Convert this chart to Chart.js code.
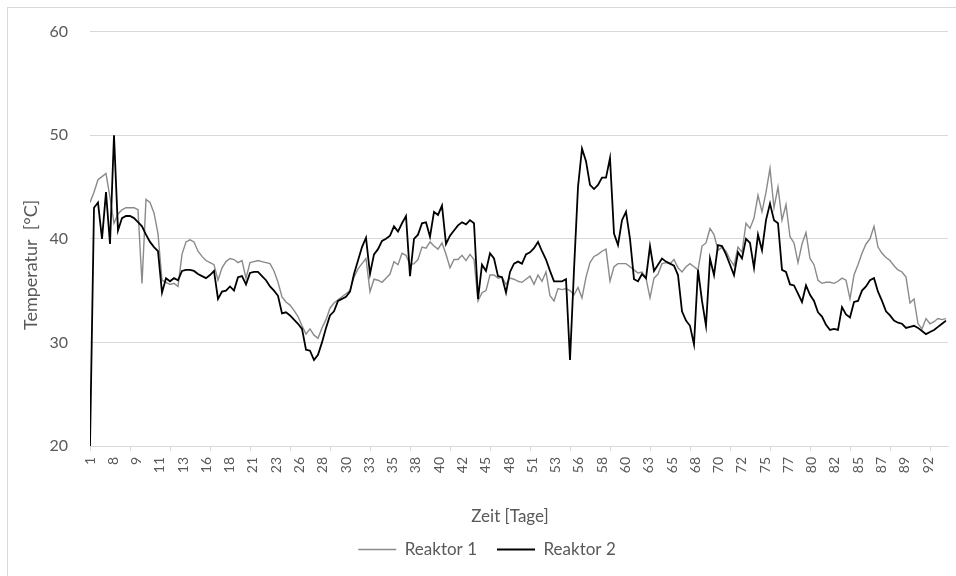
<!DOCTYPE html>
<html><head><meta charset="utf-8">
<script src="https://cdn.jsdelivr.net/npm/chart.js@4"></script>
<style>
html,body{margin:0;padding:0;background:#fff;overflow:hidden;width:956px;height:576px;}
#frame{position:absolute;left:7px;top:7px;width:1200px;height:1200px;border:1px solid #d9d9d9;box-sizing:border-box;}
canvas{position:absolute;left:0;top:0;}
</style></head><body>
<div id="frame"></div>
<canvas id="c" width="956" height="576"></canvas>
<script>
// x-axis category labels (day numbers shown by the original axis)
const tickLabels = ['1','8','9','11','13','16','18','21','23','26','28','30','33','35','38','40','42','45','48','51',
  '53','56','58','60','63','65','68','70','72','75','77','80','82','85','87','89','92'];

// Temperature series [°C], equally spaced samples
const reaktor1 = [
43.5,44.5,45.7,46.0,46.3,44.0,41.5,42.4,42.8,43.0,
43.0,43.0,42.8,35.7,43.8,43.5,42.5,40.5,36.0,35.8,
35.6,35.7,35.4,38.5,39.7,39.9,39.7,38.8,38.3,37.9,
37.7,37.5,36.0,37.2,37.8,38.1,38.0,
37.7,37.9,36.2,37.7,37.8,37.9,37.8,37.7,37.6,36.9,
35.8,34.4,33.9,33.6,33.1,32.5,31.6,30.8,31.3,30.7,
30.4,31.4,32.2,33.3,33.8,34.1,34.4,34.7,35.0,36.3,
37.1,37.6,38.1,34.9,36.1,36.0,
35.8,36.2,36.6,37.8,37.5,38.6,38.4,37.5,37.6,38.0,
39.2,39.1,39.7,39.3,39.0,39.6,38.5,37.2,38.0,38.0,
38.4,37.9,38.5,38.0,34.0,34.8,35.0,36.5,36.5,36.2,
36.3,35.6,36.2,36.1,35.9,35.8,
36.1,36.4,35.6,36.5,35.9,36.8,34.5,34.0,35.2,35.1,
35.2,35.0,34.6,35.3,34.3,36.3,37.7,38.3,38.5,38.8,
39.0,35.9,37.3,37.6,37.6,37.6,37.3,37.0,36.7,36.8,
36.2,34.3,36.2,36.6,37.6,37.7,37.6,
38.0,37.2,36.8,37.3,37.6,37.3,37.0,39.3,39.6,41.0,
40.4,38.9,39.2,38.8,38.0,37.4,39.2,38.7,41.5,41.0,
42.0,44.2,42.6,44.5,46.8,43.0,45.0,41.8,43.3,40.2,
39.6,37.7,39.5,40.6,38.1,37.5,
36.0,35.7,35.8,35.8,35.7,35.9,36.2,36.0,34.2,36.5,
37.5,38.6,39.5,40.0,41.2,39.2,38.6,38.2,37.9,37.4,
37.0,36.8,36.3,33.8,34.2,31.8,31.3,32.3,31.8,32.0,
32.3,32.2,32.3
];
const reaktor2 = [
20,43.0,43.5,40.0,44.5,39.5,50.0,40.8,42.0,42.2,
42.2,42.0,41.6,41.2,40.4,39.7,39.2,38.8,34.8,36.2,
35.9,36.2,36.0,36.9,37.0,37.0,36.9,36.6,36.4,36.2,
36.5,36.9,34.2,34.9,35.0,35.4,35.0,
36.3,36.4,35.6,36.7,36.8,36.8,36.4,36.0,35.4,35.0,
34.5,32.8,32.9,32.6,32.2,31.8,31.3,29.3,29.2,28.3,
28.8,30.0,31.4,32.6,33.0,34.0,34.2,34.4,34.9,36.6,
37.9,39.2,40.1,36.6,38.5,39.0,
39.8,40.0,40.3,41.2,40.7,41.5,42.2,36.4,40.0,40.4,
41.5,41.6,40.2,42.6,42.3,43.2,39.5,40.3,40.8,41.3,
41.6,41.4,41.8,41.5,34.2,37.5,36.9,38.6,38.1,36.4,
36.3,34.8,36.8,37.6,37.8,37.6,
38.5,38.7,39.1,39.7,38.8,38.0,36.9,35.9,35.9,35.9,
36.1,28.3,37.0,45.0,48.7,47.5,45.2,44.8,45.2,45.9,
45.9,47.8,40.5,39.4,41.8,42.6,40.0,36.1,35.9,36.6,
36.2,39.3,36.9,37.5,38.1,37.8,37.6,
37.4,36.5,33.0,32.1,31.6,29.8,37.0,34.0,31.6,38.1,
36.5,39.4,39.3,38.5,37.5,36.5,38.7,38.1,40.0,39.6,
37.2,40.4,38.9,41.8,43.4,41.8,41.5,37.0,36.8,35.6,
35.5,34.7,33.9,35.5,34.6,34.0,
32.9,32.5,31.7,31.2,31.3,31.2,33.4,32.7,32.4,33.9,
34.0,35.0,35.4,36.0,36.2,34.9,34.0,33.0,32.6,32.1,
31.9,31.8,31.4,31.5,31.6,31.4,31.1,30.8,31.0,31.2,
31.5,31.8,32.1
];
const yTicks = [20, 30, 40, 50, 60];

const samplesPerLabel = 5.82;   // samples between two shown category labels
const samplesPerMark = 10;      // samples between two axis tick marks
const xMax = reaktor1.length - 0.5;

const FONT = 'Lato, "Liberation Sans", sans-serif';
const TXT = '#595959';
const GRID = '#d9d9d9';

const axisTitles = {
  id: 'axisTitles',
  afterDraw(chart) {
    const ctx = chart.ctx, a = chart.chartArea;
    ctx.save();
    ctx.fillStyle = TXT;
    ctx.textAlign = 'center';
    ctx.textBaseline = 'middle';
    ctx.font = '17px ' + FONT;
    ctx.fillText('Zeit [Tage]', (a.left + a.right) / 2 - 9, a.bottom + 71);
    ctx.font = '18px ' + FONT;
    ctx.translate(31, (a.top + a.bottom) / 2 + 26);
    ctx.rotate(-Math.PI / 2);
    ctx.fillText('Temperatur  [°C]', 0, 0);
    ctx.restore();
  }
};

new Chart(document.getElementById('c'), {
  type: 'line',
  data: {
    datasets: [
      { label: 'Reaktor 1', data: reaktor1.map((y, i) => ({ x: i, y })), borderColor: '#8a8a8a',
        backgroundColor: '#8a8a8a', borderWidth: 1.4, pointRadius: 0, tension: 0, order: 1 },
      { label: 'Reaktor 2', data: reaktor2.map((y, i) => ({ x: i, y })), borderColor: '#000000',
        backgroundColor: '#000000', borderWidth: 1.8, pointRadius: 0, tension: 0, order: 0 }
    ]
  },
  options: {
    responsive: false,
    animation: false,
    devicePixelRatio: 1,
    layout: { padding: { left: 26, right: 8, top: 23, bottom: 8 } },
    plugins: {
      tooltip: { enabled: false },
      legend: {
        position: 'bottom',
        labels: {
          usePointStyle: true, pointStyle: 'line', pointStyleWidth: 38,
          color: TXT, font: { family: FONT, size: 17 }, padding: 20,
          sort: (a, b) => a.datasetIndex - b.datasetIndex
        }
      }
    },
    scales: {
      x: {
        type: 'linear', min: 0, max: xMax,
        afterBuildTicks(s) {
          const t = [];
          tickLabels.forEach((lab, k) => t.push({ value: k * samplesPerLabel, lab, mark: k === 0 }));
          for (let j = 1; j * samplesPerMark <= xMax; j++) t.push({ value: j * samplesPerMark, lab: '', mark: true });
          t.sort((p, q) => p.value - q.value);
          s.ticks = t;
        },
        afterFit(s) { s.height = 75; },
        ticks: {
          autoSkip: false, maxRotation: 90, minRotation: 90, padding: 6,
          color: TXT, font: { family: FONT, size: 14 },
          callback: (v, i, t) => t[i].lab || ''
        },
        grid: {
          drawOnChartArea: false, drawTicks: true, tickLength: 5,
          color: c => (c.tick && c.tick.mark) ? GRID : 'rgba(0,0,0,0)'
        },
        border: { color: GRID }
      },
      y: {
        min: yTicks[0], max: yTicks[yTicks.length - 1],
        afterBuildTicks(s) { s.ticks = yTicks.map(v => ({ value: v })); },
        afterFit(s) { s.width = 64; },
        ticks: { padding: 22, color: TXT, font: { family: FONT, size: 16 } },
        grid: { color: GRID, drawTicks: false },
        border: { display: false }
      }
    }
  },
  plugins: [axisTitles]
});
</script>
</body></html>
